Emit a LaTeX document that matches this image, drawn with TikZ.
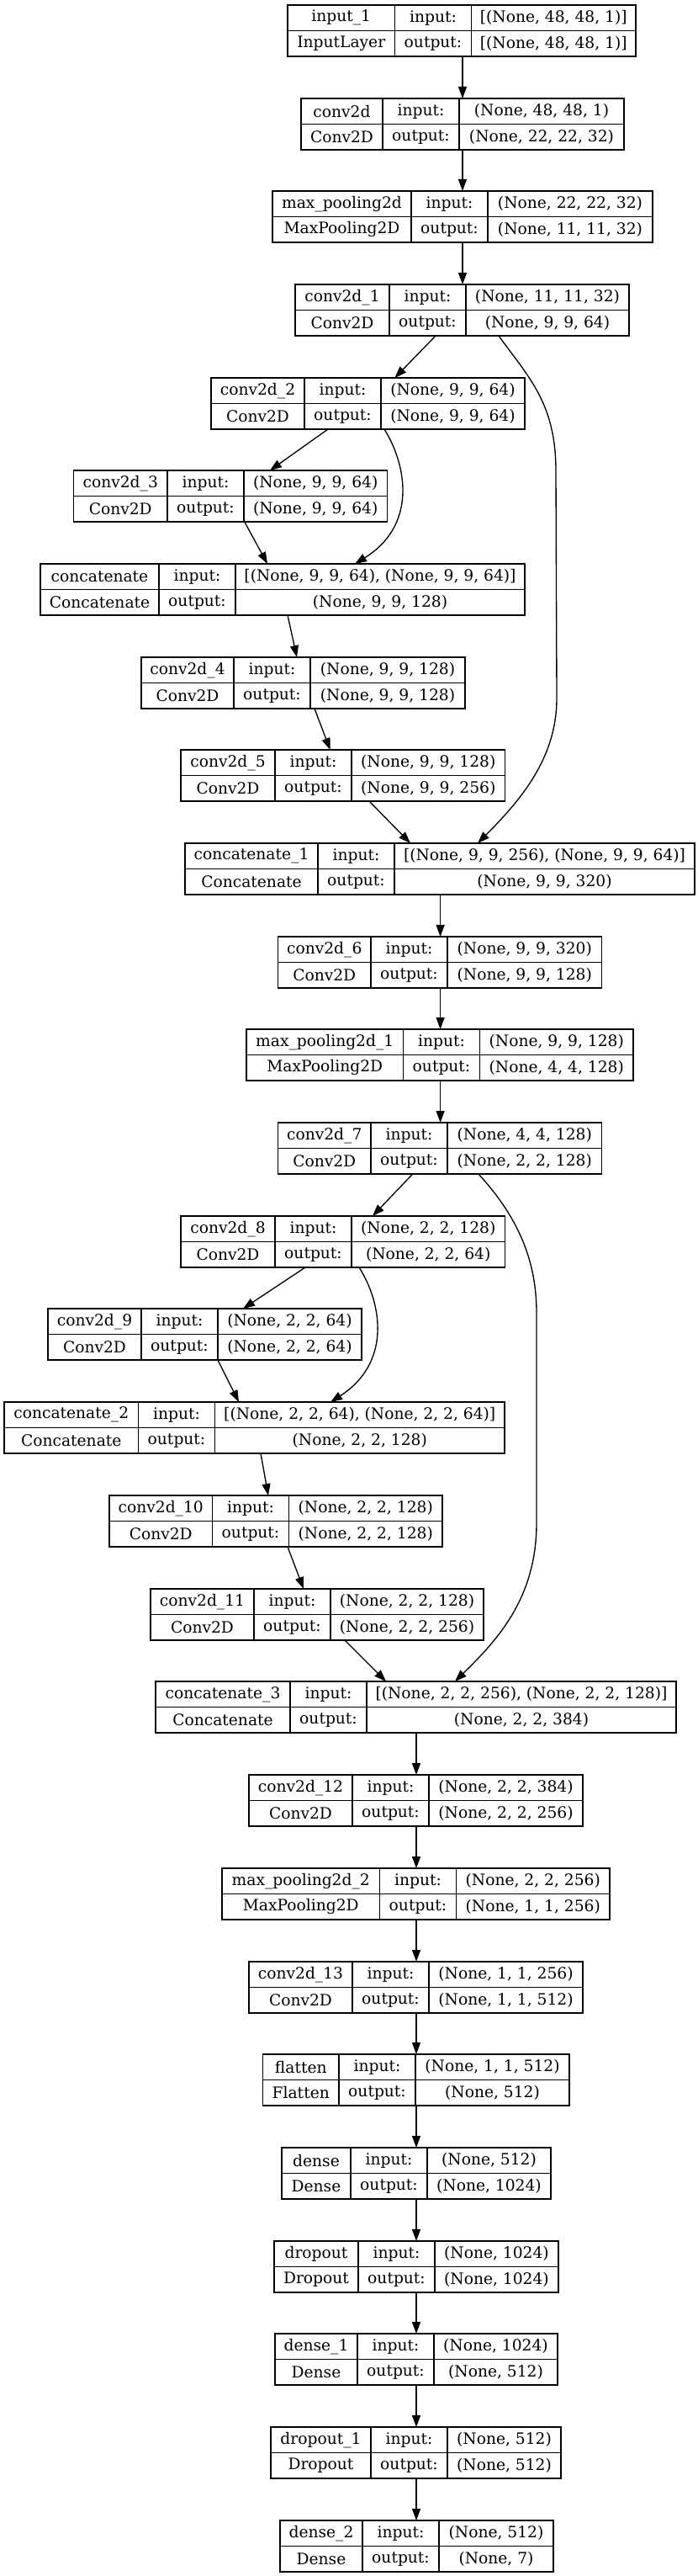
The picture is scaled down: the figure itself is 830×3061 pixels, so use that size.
\documentclass[tikz,border=0pt]{standalone}
\usepackage{fontspec}
\setmainfont{DejaVu Serif}
\usetikzlibrary{arrows.meta}

\tikzset{
	layerbox/.style={draw, line width=1.2pt, fill=white, rectangle, inner sep=0pt, outer sep=0pt,
		minimum height=45.75pt},
	cellline/.style={line width=1.2pt},
	cell/.style={inner sep=0pt, font=\fontsize{14}{16}\selectfont},
	arr/.style={-{Triangle[length=10.5pt, width=7.5pt]}, line width=1pt}
}

% id, left x, first divider x, right x, top y, name, class, input shape, output shape
\newcommand{\layer}[9]{
	\node[layerbox, minimum width={(#4-#2)*0.75pt}, anchor=north west] (#1) at (#2,#5) {};
	\draw[cellline] (#3,#5) -- (#3,#5+61) (#3+91,#5) -- (#3+91,#5+61) (#2,#5+30.5) -- (#4,#5+30.5);
	\node[cell] at ({(#2+#3)/2},#5+15.25) {#6};
	\node[cell] at ({(#2+#3)/2},#5+45.75) {#7};
	\node[cell] at (#3+45.5,#5+15.25) {input:};
	\node[cell] at (#3+45.5,#5+45.75) {output:};
	\node[cell] at ({(#3+91+#4)/2},#5+15.25) {#8};
	\node[cell] at ({(#3+91+#4)/2},#5+45.75) {#9};
}

\begin{document}
\begin{tikzpicture}[x=0.75pt, y=-0.75pt]

	\fill[white] (0,0) rectangle (830,3061);
	\useasboundingbox (0,0) rectangle (830,3061);

	\layer{in1}{342}{469.5}{756}{6}{input\_1}{InputLayer}{[(None, 48, 48, 1)]}{[(None, 48, 48, 1)]}
	\layer{conv0}{358}{455}{742}{117}{conv2d}{Conv2D}{(None, 48, 48, 1)}{(None, 22, 22, 32)}
	\layer{pool0}{324}{489}{776}{227}{max\_pooling2d}{MaxPooling2D}{(None, 22, 22, 32)}{(None, 11, 11, 32)}
	\layer{conv1}{351}{463}{748}{338}{conv2d\_1}{Conv2D}{(None, 11, 11, 32)}{(None, 9, 9, 64)}
	\layer{conv2}{251}{362}{624}{449}{conv2d\_2}{Conv2D}{(None, 9, 9, 64)}{(None, 9, 9, 64)}
	\layer{conv3}{87.5}{199}{460.5}{559}{conv2d\_3}{Conv2D}{(None, 9, 9, 64)}{(None, 9, 9, 64)}
	\layer{cat0}{48}{189}{624}{670}{concatenate}{Concatenate}{[(None, 9, 9, 64), (None, 9, 9, 64)]}{(None, 9, 9, 128)}
	\layer{conv4}{168}{278}{553}{781}{conv2d\_4}{Conv2D}{(None, 9, 9, 128)}{(None, 9, 9, 128)}
	\layer{conv5}{215}{327}{600.5}{891}{conv2d\_5}{Conv2D}{(None, 9, 9, 128)}{(None, 9, 9, 256)}
	\layer{cat1}{220}{378}{826}{1002}{concatenate\_1}{Concatenate}{[(None, 9, 9, 256), (None, 9, 9, 64)]}{(None, 9, 9, 320)}
	\layer{conv6}{330.5}{441}{715.5}{1113}{conv2d\_6}{Conv2D}{(None, 9, 9, 320)}{(None, 9, 9, 128)}
	\layer{pool1}{293}{479.5}{753}{1223}{max\_pooling2d\_1}{MaxPooling2D}{(None, 9, 9, 128)}{(None, 4, 4, 128)}
	\layer{conv7}{330.5}{441}{715.5}{1334}{conv2d\_7}{Conv2D}{(None, 4, 4, 128)}{(None, 2, 2, 128)}
	\layer{conv8}{215}{327}{600.5}{1445}{conv2d\_8}{Conv2D}{(None, 2, 2, 128)}{(None, 2, 2, 64)}
	\layer{conv9}{57}{168}{430}{1555}{conv2d\_9}{Conv2D}{(None, 2, 2, 64)}{(None, 2, 2, 64)}
	\layer{cat2}{5}{164.5}{600}{1666}{concatenate\_2}{Concatenate}{[(None, 2, 2, 64), (None, 2, 2, 64)]}{(None, 2, 2, 128)}
	\layer{conv10}{130}{252.5}{526}{1777}{conv2d\_10}{Conv2D}{(None, 2, 2, 128)}{(None, 2, 2, 128)}
	\layer{conv11}{179}{302}{575}{1888}{conv2d\_11}{Conv2D}{(None, 2, 2, 128)}{(None, 2, 2, 256)}
	\layer{cat3}{185}{345}{804}{1998}{concatenate\_3}{Concatenate}{[(None, 2, 2, 256), (None, 2, 2, 128)]}{(None, 2, 2, 384)}
	\layer{conv12}{296}{419}{693}{2109}{conv2d\_12}{Conv2D}{(None, 2, 2, 384)}{(None, 2, 2, 256)}
	\layer{pool2}{264}{451.5}{725}{2220}{max\_pooling2d\_2}{MaxPooling2D}{(None, 2, 2, 256)}{(None, 1, 1, 256)}
	\layer{conv13}{296}{419}{693}{2331}{conv2d\_13}{Conv2D}{(None, 1, 1, 256)}{(None, 1, 1, 512)}
	\layer{flat}{312.5}{403}{677}{2441}{flatten}{Flatten}{(None, 1, 1, 512)}{(None, 512)}
	\layer{dense0}{335}{417}{655}{2552}{dense}{Dense}{(None, 512)}{(None, 1024)}
	\layer{drop0}{326}{426}{664}{2663}{dropout}{Dropout}{(None, 1024)}{(None, 1024)}
	\layer{dense1}{327}{425}{663}{2773}{dense\_1}{Dense}{(None, 1024)}{(None, 512)}
	\layer{drop1}{322}{441}{667}{2884}{dropout\_1}{Dropout}{(None, 512)}{(None, 512)}
	\layer{dense2}{333}{431}{658}{2995}{dense\_2}{Dense}{(None, 512)}{(None, 7)}

	% straight edges: from node / x, to node / x
	\foreach \a/\xa/\b/\xb in {in1/550/conv0/550, conv0/550/pool0/550, pool0/550/conv1/550,
		conv1/518/conv2/469.5, conv2/390/conv3/321, conv3/290.7/cat0/318, cat0/342/conv4/353,
		conv4/374/conv5/392.6, conv5/439/cat1/488, cat1/523.6/conv6/523.6, conv6/523.6/pool1/523.6,
		pool1/523.6/conv7/523.6, conv7/490.7/conv8/443, conv8/363/conv9/289, conv9/259/cat2/284,
		cat2/310/conv10/319, conv10/342/conv11/361, conv11/410/cat3/459, cat3/495/conv12/495,
		conv12/495/pool2/495, pool2/495/conv13/495, conv13/495/flat/495, flat/495/dense0/495,
		dense0/495/drop0/495, drop0/495/dense1/495, dense1/495/drop1/495, drop1/495/dense2/495} {
		\draw[arr] (\a.south -| \xa,0) -- (\b.north -| \xb,0);
	}

	% skip connections
	\draw[arr] (conv2.south -| 457,0) .. controls (485,555) and (495,625) .. (cat0.north -| 422,0);
	\draw[arr] (conv8.south -| 427,0) .. controls (455,1550) and (465,1620) .. (cat2.north -| 393,0);
	\draw[arr] (conv1.south -| 593,0) .. controls (630,450) and (661,480) .. (661,560)
		-- (662,830) .. controls (662,900) and (620,950) .. (cat1.north -| 568,0);
	\draw[arr] (conv7.south -| 569,0) .. controls (610,1440) and (638,1490) .. (638,1560)
		-- (638,1810) .. controls (638,1900) and (590,1950) .. (cat3.north -| 541,0);

\end{tikzpicture}
\end{document}
